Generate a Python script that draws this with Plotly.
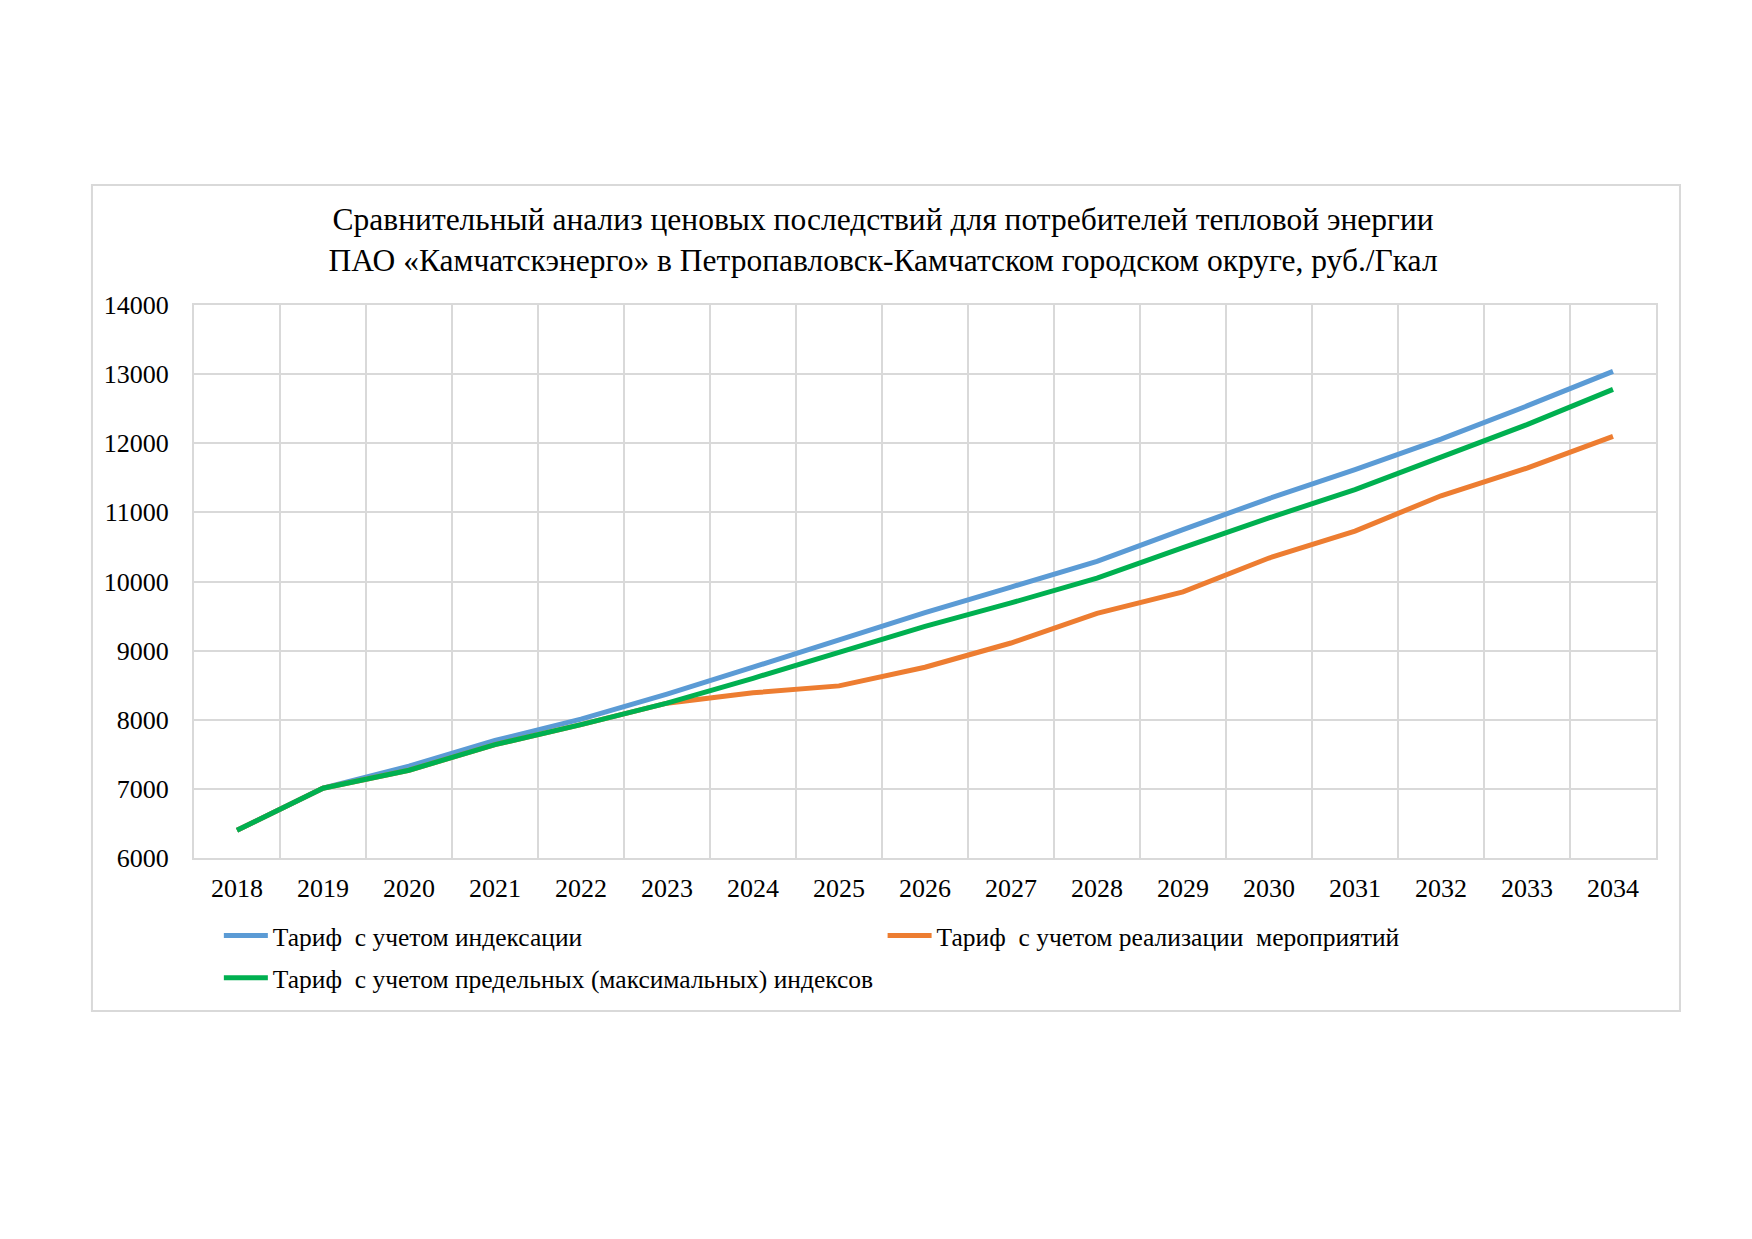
import plotly.graph_objects as go

years = [str(y) for y in range(2018, 2035)]

# тариф с учетом индексации
tariff_index = [6400, 7010, 7330, 7700, 8010, 8370, 8760, 9160, 9550,
                9920, 10290, 10750, 11200, 11620, 12060, 12540, 13040]
# тариф с учетом реализации мероприятий
tariff_measures = [6400, 7010, 7270, 7640, 7930, 8240, 8390, 8490, 8760,
                   9110, 9540, 9850, 10340, 10730, 11240, 11640, 12100]
# тариф с учетом предельных (максимальных) индексов
tariff_max = [6400, 7010, 7270, 7640, 7930, 8240, 8600, 8980, 9350,
              9690, 10050, 10490, 10920, 11330, 11800, 12270, 12780]

names = ["Тариф  с учетом индексации",
         "Тариф  с учетом реализации  мероприятий",
         "Тариф  с учетом предельных (максимальных) индексов"]
colors = ["#5B9BD5", "#ED7D31", "#00B050"]
legends = ["legend", "legend2", "legend3"]

title = ("Сравнительный анализ ценовых последствий для потребителей тепловой энергии<br>"
         "ПАО «Камчатскэнерго» в Петропавловск-Камчатском городском округе, руб./Гкал")

font = "Liberation Serif, Times New Roman, serif"
grid = "#D9D9D9"

fig = go.Figure()
for name, vals, col, lg in zip(names, [tariff_index, tariff_measures, tariff_max], colors, legends):
    fig.add_trace(go.Scatter(x=years, y=vals, name=name, mode="lines", legend=lg,
                             line=dict(color=col, width=5)))

# рамка вокруг диаграммы
fig.add_shape(type="rect", xref="paper", yref="paper",
              x0=-0.0698, x1=1.0164, y0=-0.2767, y1=1.217,
              line=dict(color=grid, width=2), fillcolor="rgba(0,0,0,0)")

leg = dict(orientation="h", xanchor="left", yanchor="middle", bgcolor="rgba(0,0,0,0)",
           font=dict(family=font, size=25.5, color="black"), itemwidth=44)

fig.update_layout(
    width=1752, height=1239,
    paper_bgcolor="white", plot_bgcolor="white",
    margin=dict(l=186, r=104, t=297, b=389),
    font=dict(family=font, size=26, color="black"),
    title=dict(text=title, x=0.4995, xanchor="center", y=0.8208, yanchor="middle",
               yref="container", font=dict(family=font, size=31.5, color="black")),
    showlegend=True,
    legend=dict(leg, x=0.017, y=-0.141),
    legend2=dict(leg, x=0.471, y=-0.141),
    legend3=dict(leg, x=0.017, y=-0.2175),
)

fig.update_xaxes(type="category", range=[-0.5, 16.5], tickson="boundaries",
                 showgrid=True, gridcolor=grid, gridwidth=2,
                 showline=True, linecolor=grid, linewidth=2, mirror=True,
                 ticks="", ticklabelstandoff=6)
fig.update_yaxes(range=[6000, 14000], dtick=1000, tickformat="d",
                 showgrid=True, gridcolor=grid, gridwidth=2,
                 showline=True, linecolor=grid, linewidth=2, mirror=True,
                 zeroline=False, ticks="", ticklabelstandoff=18)

fig.write_html("out.html")
